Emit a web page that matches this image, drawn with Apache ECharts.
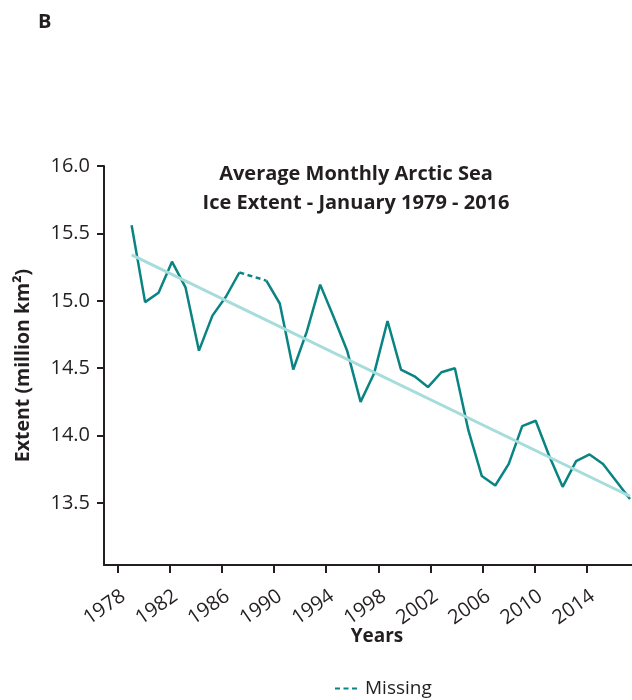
<!DOCTYPE html>
<html lang="en">
<head>
    <meta charset="UTF-8">
    <title>Arctic Sea Ice Extent</title>
    <style>
        html, body { margin: 0; padding: 0; background: #fff; }
        #chart { width: 632px; height: 700px; }
    </style>
</head>
<body>
<div id="chart"></div>
<script src="https://cdn.jsdelivr.net/npm/echarts@6/dist/echarts.min.js"></script>
<script type="text/javascript">
    // january extent, million km2 (1988 missing)
    var years = [1979, 1980, 1981, 1982, 1983, 1984, 1985, 1986, 1987, 1988,
        1989, 1990, 1991, 1992, 1993, 1994, 1995, 1996, 1997, 1998,
        1999, 2000, 2001, 2002, 2003, 2004, 2005, 2006, 2007, 2008,
        2009, 2010, 2011, 2012, 2013, 2014, 2015, 2016];
    var extent = [15.56, 14.99, 15.06, 15.29, 15.10, 14.63, 14.89, 15.03, 15.21, null,
        15.15, 14.98, 14.49, 14.77, 15.12, 14.88, 14.63, 14.25, 14.46, 14.85,
        14.49, 14.44, 14.36, 14.47, 14.50, 14.04, 13.70, 13.63, 13.79, 14.07,
        14.11, 13.85, 13.62, 13.81, 13.86, 13.79, 13.66, 13.53];
    var missingYears = [1987, 1989];
    var missingValues = [15.21, 15.15];
    var trendYears = [1979, 2016];
    var trendValues = [15.34, 13.55];
    var xTicks = [1978, 1982, 1986, 1990, 1994, 1998, 2002, 2006, 2010, 2014];
    var yTicks = [13.5, 14.0, 14.5, 15.0, 15.5, 16.0];

    var teal = '#0a8482';
    var lightTeal = '#a6dcdb';
    var ink = '#231f20';
    var font = 'Open Sans';

    function pairs(xs, ys) {
        return xs.map(function (x, i) { return [x, ys[i]]; });
    }

    var myChart = echarts.init(document.getElementById('chart'));
    myChart.setOption({
        animation: false,
        backgroundColor: '#fff',
        textStyle: { fontFamily: font, color: ink },
        title: [
            {
                text: 'B',
                left: 33, top: 7,
                textStyle: { fontSize: 20, fontWeight: 'bold', color: ink, fontFamily: font }
            },
            {
                text: 'Average Monthly Arctic Sea\nIce Extent - January 1979 - 2016',
                left: 351, top: 155, textAlign: 'center',
                textStyle: { fontSize: 20, fontWeight: 'bold', color: ink, fontFamily: font, lineHeight: 29 }
            }
        ],
        legend: {
            left: 329, top: 674,
            itemWidth: 25, itemHeight: 12,
            itemStyle: { opacity: 0 },
            textStyle: { fontSize: 19, color: ink, fontFamily: font },
            data: ['Missing']
        },
        grid: { left: 104, right: 0, top: 166, bottom: 135, containLabel: false },
        xAxis: [
            {
                // carries the data points
                type: 'value', min: 1976.95, max: 2016.15,
                show: false, position: 'bottom'
            },
            {
                // tick labels as printed on the original
                type: 'value', min: 1976.95, max: 2017.47, position: 'bottom',
                name: 'Years', nameLocation: 'middle', nameGap: 62, nameMoveOverlap: false,
                nameTextStyle: { fontSize: 19, fontWeight: 'bold', color: ink, fontFamily: font, padding: [0, 0, 0, 18] },
                axisLine: { show: true, lineStyle: { color: ink, width: 2 } },
                axisTick: { show: true, length: 8, customValues: xTicks, lineStyle: { color: ink, width: 2 } },
                axisLabel: {
                    customValues: xTicks, rotate: 35, fontSize: 20, color: ink, margin: 21,
                    verticalAlign: 'top',
                    formatter: function (v) { return String(v); }
                },
                splitLine: { show: false }
            }
        ],
        yAxis: {
            type: 'value', min: 13.04, max: 16.0,
            name: 'Extent (million km²)', nameLocation: 'middle', nameGap: 71,
            nameTextStyle: { fontSize: 19.5, fontWeight: 'bold', color: ink, fontFamily: font },
            axisLine: { show: true, lineStyle: { color: ink, width: 2 } },
            axisTick: { show: true, length: 7, customValues: yTicks, lineStyle: { color: ink, width: 2 } },
            axisLabel: {
                customValues: yTicks, fontSize: 20, color: ink, margin: 14,
                formatter: function (v) { return v.toFixed(1); }
            },
            splitLine: { show: false }
        },
        series: [
            {
                name: 'Extent', type: 'line', xAxisIndex: 0,
                data: pairs(years, extent),
                symbol: 'none', connectNulls: false,
                lineStyle: { color: teal, width: 2.5 },
                itemStyle: { color: teal },
                z: 2
            },
            {
                name: 'Missing', type: 'line', xAxisIndex: 0,
                data: pairs(missingYears, missingValues),
                symbol: 'none',
                lineStyle: { color: teal, width: 2.5, type: [5, 3.5] },
                itemStyle: { color: teal },
                z: 2
            },
            {
                name: 'Trend', type: 'line', xAxisIndex: 0,
                data: pairs(trendYears, trendValues),
                symbol: 'none',
                lineStyle: { color: lightTeal, width: 3 },
                itemStyle: { color: lightTeal },
                z: 3
            }
        ]
    });
</script>
</body>
</html>
